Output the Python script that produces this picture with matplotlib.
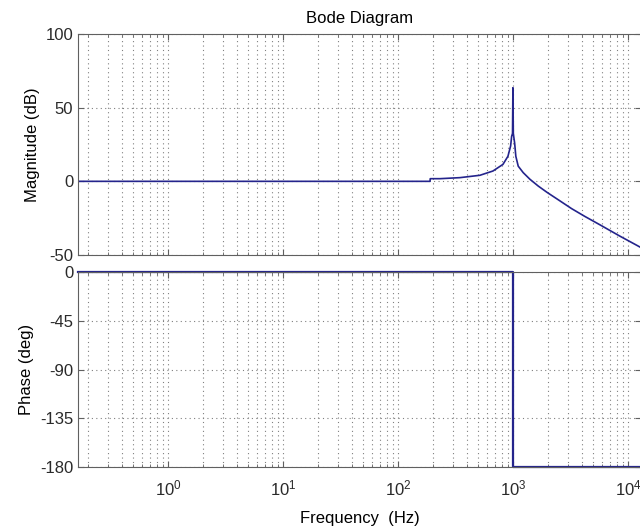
import matplotlib
matplotlib.use("Agg")
from matplotlib import pyplot as plt
from matplotlib.ticker import LogLocator, NullFormatter

# magnitude curve (Hz, dB)
mag_freq = [0.165, 190, 191, 232, 346, 516, 670, 819, 905, 955, 975, 992,
            1000, 1008, 1035, 1060, 1112, 1229, 1406, 1660, 1990, 2478,
            3235, 4220, 5710, 8520, 12200, 13000]
mag_db = [0.0, 0.0, 1.8, 1.8, 2.5, 4.1, 7.0, 11.5, 17.0, 24.0, 30.6, 32.5,
          63.5, 32.5, 26.0, 17.0, 10.3, 5.9, 1.4, -3.2, -7.6, -12.5,
          -18.5, -23.8, -29.5, -37.2, -43.8, -45.0]

# phase curve (Hz, deg)
ph_freq = [0.165, 1000, 1000, 13000]
ph_deg = [0, 0, -180, -180]

mag_ticks = [-50, 0, 50, 100]
ph_ticks = [-180, -135, -90, -45, 0]

line_c = '#24248c'
grid_c = '#808080'
spine_c = '#606060'

plt.rcParams['font.family'] = ['Liberation Sans', 'DejaVu Sans']
plt.rcParams['mathtext.fontset'] = 'custom'
plt.rcParams['mathtext.rm'] = 'Liberation Sans'
plt.rcParams['axes.unicode_minus'] = False

fig = plt.figure(figsize=(6.4, 5.3), dpi=100)
ax1 = fig.add_axes([78 / 640, 1 - 255 / 530, 563 / 640, 221 / 530])
ax2 = fig.add_axes([78 / 640, 1 - 467 / 530, 563 / 640, 195 / 530])

ax1.plot(mag_freq, mag_db, color=line_c, lw=1.2)
ax2.plot(ph_freq, ph_deg, color=line_c, lw=1.6, clip_on=False)

for ax in (ax1, ax2):
    ax.set_xscale('log')
    ax.set_xlim(0.165, 13000)
    ax.xaxis.set_major_locator(LogLocator(base=10, numticks=20))
    ax.xaxis.set_minor_locator(LogLocator(base=10, subs=range(2, 10), numticks=20))
    ax.xaxis.set_minor_formatter(NullFormatter())
    ax.grid(True, which='major', ls=(0, (1, 3)), lw=0.8, color=grid_c)
    ax.grid(True, which='minor', axis='x', ls=(0, (1, 3)), lw=0.8, color=grid_c)
    ax.tick_params(which='both', direction='in', top=True, right=True,
                   colors=spine_c, labelcolor='#2a2a2a', labelsize=12)
    ax.tick_params(which='major', length=4)
    ax.tick_params(which='minor', length=2)
    for s in ax.spines.values():
        s.set_color(spine_c)

ax1.set_ylim(-50, 100)
ax1.set_yticks(mag_ticks)
ax1.tick_params(labelbottom=False)
ax1.set_ylabel('Magnitude (dB)', fontsize=12)
ax1.set_title('Bode Diagram', fontsize=12, pad=8)

ax2.set_ylim(-180, 0)
ax2.set_yticks(ph_ticks)
ax2.tick_params(axis='x', which='major', pad=8)
ax2.set_ylabel('Phase (deg)', fontsize=12)
ax2.set_xlabel('Frequency  (Hz)', fontsize=12, labelpad=9)

fig.savefig('out.png', dpi=100)
